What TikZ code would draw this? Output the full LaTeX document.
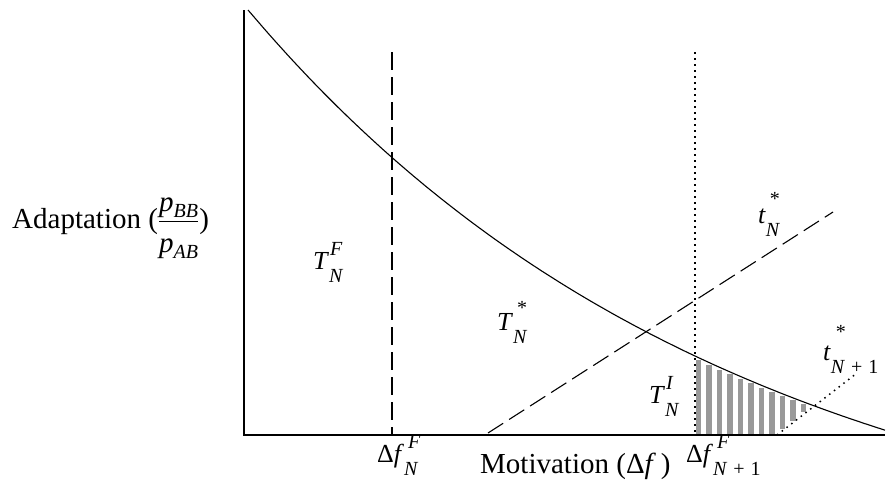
\documentclass[tikz,border=0pt]{standalone}
\usepackage{amsmath}
\usepackage{fontspec}
\setmainfont{Liberation Serif}
\usetikzlibrary{positioning}

\newcommand{\idx}{\fontsize{20}{20}\selectfont}
\newcommand{\sym}[4][14pt]{#2\makebox[0pt][l]{\hspace{1pt}\raisebox{#1}{\idx #4}}\raisebox{-13pt}{\idx #3}}
\newcommand{\pp}[1]{\mbox{\textit{p}\raisebox{-6pt}{\idx\textit{#1}}}}
\newcommand{\plusone}{\textit{N}\hspace{0.3em}+\hspace{0.3em}1}

\begin{document}
\begin{tikzpicture}[
        x = 1pt, y = -1pt,
        every node/.style = {font = \fontsize{29}{34}\selectfont, inner sep = 0pt, anchor = base west},
        mark label/.style = {font = \fontsize{26}{30}\selectfont},
        axis/.style = {line width = 1.3pt},
        curve/.style = {line width = 1.1pt},
        longdash/.style = {line width = 1.1pt, dash pattern = on 18pt off 7pt},
        dots/.style = {line width = 1.5pt, dash pattern = on 1.5pt off 4.5pt},
        bar/.style = {line width = 5.5pt, draw = black!40}
    ]

    \useasboundingbox (0,0) rectangle (887,482);

    \coordinate (top) at (244,10);
    \coordinate (origin) at (244,435);
    \coordinate (end) at (885,435);
    \coordinate (f1 top) at (392,52);
    \coordinate (f1) at (392,435);
    \coordinate (f2 top) at (695,52);
    \coordinate (f2) at (695,435);
    \coordinate (tN start) at (488,433);
    \coordinate (tN end) at (833,212);
    \coordinate (tN1 start) at (777,435);
    \coordinate (tN1 end) at (857,373);

    % shaded part under the curve
    \foreach \i in {0,...,10} {
        \pgfmathsetmacro{\bx}{698.5 + 10.5*\i}
        \pgfmathsetmacro{\bt}{585 - 575*exp(-0.00206*(\bx-248)) + 2.5}
        \pgfmathsetmacro{\bb}{min(434.5, 435 - 0.775*(\bx-777) - 2)}
        \draw[bar] (\bx,\bt) -- (\bx,\bb);
    }

    \draw[axis] (top) -- (origin) -- (end);
    \draw[curve] plot[domain = 248:885, samples = 120]
        (\x, {585 - 575*exp(-0.00206*(\x-248))});

    \draw[longdash] (f1 top) -- (f1);
    \draw[dots] (f2 top) -- (f2);
    \draw[longdash] (tN start) -- (tN end);
    \draw[dots] (tN1 start) -- (tN1 end);

    \node (ylabel) at (12,228)
        {Adaptation ($\dfrac{\pp{BB}}{\rule{0pt}{27pt}\pp{AB}}$)};
    \node (xlabel) at (480,473) {Motivation (Δ\textit{f}\,)};
    \node[mark label] (df1) at (377,462)
        {Δ\sym{\textit{f}}{\textit{N}}{\hspace{3pt}\textit{F}}};
    \node[mark label] (df2) at (686,462)
        {Δ\sym{\textit{f}}{\plusone}{\hspace{3pt}\textit{F}}};

    \node[mark label] (TF) at (313,269) {\sym{\textit{T}}{\textit{N}}{\textit{F}}};
    \node[mark label] (Ts) at (497,330) {\sym[16pt]{\textit{T}}{\textit{N}}{\hspace{3pt}*}};
    \node[mark label] (TI) at (649,403) {\sym{\textit{T}}{\textit{N}}{\textit{I}}};
    \node[mark label] (ts) at (758,223) {\sym[18pt]{\textit{t}}{\textit{N}}{\hspace{3pt}*}};
    \node[mark label] (ts1) at (823,360) {\sym[22pt]{\textit{t}}{\plusone}{\hspace{4pt}*}};

\end{tikzpicture}
\end{document}
